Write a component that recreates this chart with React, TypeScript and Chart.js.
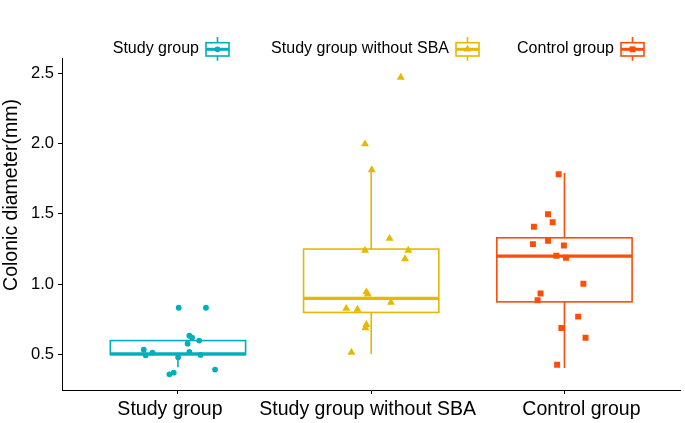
import React, { useEffect, useRef } from "react";
import { Chart, registerables } from "chart.js";

Chart.register(...registerables);

// ---- data ----
const categories = ["Study group", "Study group without SBA", "Control group"];
const yTicks = [0.5, 1.0, 1.5, 2.0, 2.5];

// box statistics
const whiskerLow = [0.41, 0.505, 0.405];
const q1 = [0.5, 0.8, 0.875];
const median = [0.505, 0.9, 1.2];
const q3 = [0.6, 1.25, 1.33];
const whiskerHigh = [0.6, 1.82, 1.79];

// jittered points (x in category units, y in mm)
const studyX = [1.004, 1.145, 1.059, 1.073, 1.11, 1.05, 0.823, 0.868, 0.833, 1.059, 1.117, 1.001, 1.192, 0.956, 0.978];
const studyY = [0.833, 0.833, 0.635, 0.62, 0.6, 0.578, 0.535, 0.514, 0.495, 0.519, 0.498, 0.481, 0.394, 0.36, 0.372];

const sbaX = [2.153, 1.968, 2.003, 2.095, 1.968, 2.192, 2.175, 1.975, 1.982, 2.102, 1.871, 1.929, 1.975, 1.97, 1.898];
const sbaY = [2.469, 1.996, 1.812, 1.325, 1.24, 1.24, 1.18, 0.945, 0.93, 0.871, 0.828, 0.821, 0.713, 0.689, 0.516];

const controlX = [2.97, 2.915, 2.939, 2.842, 2.837, 2.915, 2.997, 2.958, 3.008, 3.098, 2.876, 2.861, 3.071, 2.984, 3.109, 2.962];
const controlY = [1.781, 1.497, 1.44, 1.408, 1.285, 1.309, 1.275, 1.202, 1.188, 1.004, 0.935, 0.887, 0.77, 0.689, 0.62, 0.429];

// ---- style ----
const colors = ["#00AFBB", "#E7B800", "#FC4E07"];
const pointStyles = ["circle", "triangle", "rect"];
const pointRadii = [2.9, 4.6, 4.2];
const FONT = "'Liberation Sans', Arial, sans-serif";
const BOX_HALF = 0.35;
const legendKeyLeft = [206, 456, 621];
const xLabelShift = [-8, -3.5, 17];

function drawSymbol(ctx: CanvasRenderingContext2D, style: string, x: number, y: number, r: number) {
  ctx.beginPath();
  if (style === "circle") {
    ctx.arc(x, y, r, 0, Math.PI * 2);
  } else if (style === "triangle") {
    ctx.moveTo(x, y - r);
    ctx.lineTo(x + r * 0.866, y + r / 2);
    ctx.lineTo(x - r * 0.866, y + r / 2);
    ctx.closePath();
  } else {
    const s = r / Math.SQRT2;
    ctx.rect(x - s, y - s, 2 * s, 2 * s);
  }
  ctx.fill();
}

const boxPlugin = {
  id: "boxes",
  beforeDatasetsDraw(chart: any) {
    const { ctx, scales } = chart;
    const x = scales.x;
    const y = scales.y;
    categories.forEach((_, i) => {
      const cx = x.getPixelForValue(i + 1);
      const hw = x.getPixelForValue(i + 1 + BOX_HALF) - cx;
      ctx.save();
      ctx.strokeStyle = colors[i];
      ctx.lineWidth = 1.6;
      ctx.beginPath();
      ctx.moveTo(cx, y.getPixelForValue(whiskerHigh[i]));
      ctx.lineTo(cx, y.getPixelForValue(q3[i]));
      ctx.moveTo(cx, y.getPixelForValue(q1[i]));
      ctx.lineTo(cx, y.getPixelForValue(whiskerLow[i]));
      ctx.stroke();
      const top = y.getPixelForValue(q3[i]);
      const bot = y.getPixelForValue(q1[i]);
      ctx.strokeRect(cx - hw, top, 2 * hw, bot - top);
      ctx.lineWidth = 3.2;
      ctx.beginPath();
      const my = y.getPixelForValue(median[i]);
      ctx.moveTo(cx - hw, my);
      ctx.lineTo(cx + hw, my);
      ctx.stroke();
      ctx.restore();
    });
  },
  afterDraw(chart: any) {
    const { ctx, scales } = chart;
    ctx.save();
    // x category labels
    ctx.fillStyle = "#000";
    ctx.font = `19.5px ${FONT}`;
    ctx.textAlign = "center";
    ctx.textBaseline = "middle";
    categories.forEach((c, i) => {
      ctx.fillText(c, scales.x.getPixelForValue(i + 1) + xLabelShift[i], 410);
    });
    // legend
    categories.forEach((c, i) => {
      const kl = legendKeyLeft[i];
      const kw = 23;
      const kc = kl + kw / 2;
      ctx.fillStyle = "#000";
      ctx.font = `16px ${FONT}`;
      ctx.textAlign = "right";
      ctx.textBaseline = "middle";
      ctx.fillText(c, kl - 7, 49);
      ctx.strokeStyle = colors[i];
      ctx.fillStyle = colors[i];
      ctx.lineWidth = 1.6;
      ctx.beginPath();
      ctx.moveTo(kc, 37);
      ctx.lineTo(kc, 42.7);
      ctx.moveTo(kc, 56);
      ctx.lineTo(kc, 60.7);
      ctx.stroke();
      ctx.strokeRect(kl, 42.7, kw, 13.3);
      ctx.lineWidth = 3;
      ctx.beginPath();
      ctx.moveTo(kl, 49.3);
      ctx.lineTo(kl + kw, 49.3);
      ctx.stroke();
      drawSymbol(ctx, pointStyles[i], kc, 49.3, pointRadii[i]);
    });
    // y title
    ctx.translate(12, 195);
    ctx.rotate(-Math.PI / 2);
    ctx.fillStyle = "#000";
    ctx.font = `19.5px ${FONT}`;
    ctx.textAlign = "center";
    ctx.textBaseline = "middle";
    ctx.fillText("Colonic diameter(mm)", 0, 0);
    ctx.restore();
  },
};

export default function App() {
  const ref = useRef<HTMLCanvasElement | null>(null);
  useEffect(() => {
    document.body.style.margin = "0";
    const groupsX = [studyX, sbaX, controlX];
    const groupsY = [studyY, sbaY, controlY];
    const datasets = categories.map((c, i) => ({
      label: c,
      data: groupsX[i].map((xv, k) => ({ x: xv, y: groupsY[i][k] })),
      pointStyle: pointStyles[i],
      pointRadius: pointRadii[i],
      backgroundColor: colors[i],
      borderColor: colors[i],
      borderWidth: 0,
      showLine: false,
    }));
    const chart = new Chart(ref.current as HTMLCanvasElement, {
      type: "scatter",
      data: { datasets },
      options: {
        responsive: false,
        animation: false,
        devicePixelRatio: 1,
        layout: { padding: { top: 58, right: 0, left: 0, bottom: 0 } },
        plugins: { legend: { display: false }, tooltip: { enabled: false } },
        scales: {
          x: {
            type: "linear",
            min: 0.4,
            max: 3.6,
            afterBuildTicks: (s: any) => {
              s.ticks = categories.map((_, i) => ({ value: i + 1 }));
            },
            afterFit: (s: any) => {
              s.height = 33;
            },
            ticks: { display: false },
            grid: { display: true, drawOnChartArea: false, drawTicks: true, tickLength: 4, color: "#000", lineWidth: 1 },
            border: { display: true, color: "#000", width: 1 },
          },
          y: {
            type: "linear",
            min: 0.249,
            max: 2.607,
            afterBuildTicks: (s: any) => {
              s.ticks = yTicks.map((v) => ({ value: v }));
            },
            afterFit: (s: any) => {
              s.width = 62;
            },
            ticks: {
              callback: (v: any) => Number(v).toFixed(1),
              color: "#000",
              font: { family: FONT, size: 16.5 },
              padding: 4,
            },
            grid: { display: true, drawOnChartArea: false, drawTicks: true, tickLength: 4, color: "#000", lineWidth: 1 },
            border: { display: true, color: "#000", width: 1 },
          },
        },
      },
      plugins: [boxPlugin],
    } as any);
    return () => chart.destroy();
  }, []);
  return (
    <div style={{ position: "absolute", left: 0, top: 0, width: 685, height: 423, background: "#fff" }}>
      <canvas ref={ref} width={685} height={423} />
    </div>
  );
}
